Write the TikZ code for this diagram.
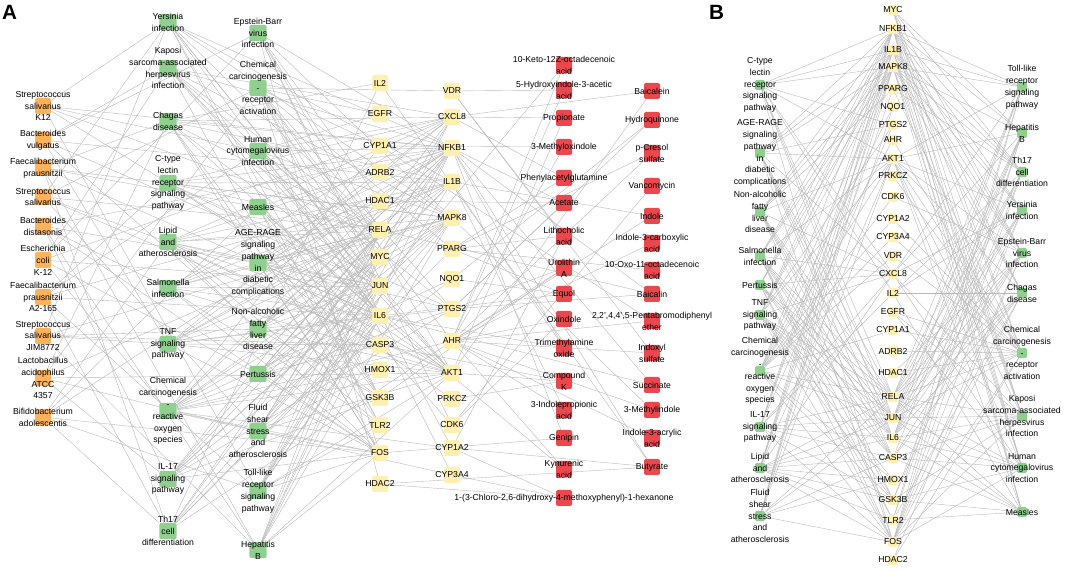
\documentclass[tikz,border=0pt]{standalone}
\usepackage{fontspec}
\setmainfont{Liberation Sans}
\usepackage{tikz}
\pgfdeclarelayer{edges}
\pgfsetlayers{edges,main}

\definecolor{bactcol}{RGB}{253,178,92}
\definecolor{pathcol}{RGB}{143,208,143}
\definecolor{genecol}{RGB}{255,240,178}
\definecolor{metacol}{RGB}{232,72,78}
\definecolor{edgecol}{RGB}{185,185,185}

\begin{document}
\begin{tikzpicture}[x=0.75pt,y=0.75pt,yscale=-1,xscale=1,
  sq/.style={rounded corners=1.5pt, inner sep=0pt, minimum size=12pt},
  sqsmall/.style={rounded corners=1pt, inner sep=0pt, minimum size=7.5pt},
  bact/.style={sq, fill=bactcol},
  patha/.style={sq, fill=pathcol, minimum width=13pt},
  genea/.style={sq, fill=genecol},
  meta/.style={sq, fill=metacol},
  pathb/.style={sqsmall, fill=pathcol},
  geneb/.style={sqsmall, fill=genecol},
  txt/.style={font=\fontsize{6.5}{8.9}\selectfont, align=center, inner sep=0pt},
  edge/.style={draw=edgecol, line width=0.3pt},
  panel/.style={font=\bfseries\fontsize{15.5}{18}\selectfont, inner sep=0pt}
]
\useasboundingbox (0,0) rectangle (1065,570);

% Panel letters
\node[panel] (lblA) at (9.5,12.5) {A};
\node[panel] (lblB) at (716.5,12.5) {B};

%%%%%%%%%%%%%%%%%%%% Panel A %%%%%%%%%%%%%%%%%%%%
% Bacteria
\foreach \y/\lab [count=\i] in {106/{Streptococcus\\salivarius\\K12}, 140/{Bacteroides\\vulgatus},
  168/{Faecalibacterium\\prausnitzii}, 197/{Streptococcus\\salivarius}, 226/{Bacteroides\\distasonis},
  260/{Escherichia\\coli\\K-12}, 297/{Faecalibacterium\\prausnitzii\\A2-165},
  336/{Streptococcus\\salivarius\\JIM8772}, 378/{Lactobacillus\\acidophilus\\ATCC\\4357},
  417/{Bifidobacterium\\adolescentis}}{
  \node[bact] (bac\i) at (43,\y) {};
  \node[txt] (tbac\i) at (bac\i) {\lab};
}
% Pathways, first column
\foreach \y/\lab [count=\i] in {22/{Yersinia\\infection}, 68/{Kaposi\\sarcoma-associated\\herpesvirus\\infection},
  121/{Chagas\\disease}, 183/{C-type\\lectin\\receptor\\signaling\\pathway}, 242/{Lipid\\and\\atherosclerosis},
  288/{Salmonella\\infection}, 344/{TNF\\signaling\\pathway},
  411/{Chemical\\carcinogenesis\\-\\reactive\\oxygen\\species}, 479/{IL-17\\signaling\\pathway},
  531/{Th17\\cell\\differentiation}}{
  \node[patha] (pwa\i) at (168,\y) {};
  \node[txt] (tpwa\i) at (pwa\i) {\lab};
}
% Pathways, second column
\foreach \y/\lab [count=\i] in {33/{Epstein-Barr\\virus\\infection}, 88/{Chemical\\carcinogenesis\\-\\receptor\\activation},
  151/{Human\\cytomegalovirus\\infection}, 207/{Measles},
  263/{AGE-RAGE\\signaling\\pathway\\in\\diabetic\\complications}, 329/{Non-alcoholic\\fatty\\liver\\disease},
  374/{Pertussis}, 431/{Fluid\\shear\\stress\\and\\atherosclerosis},
  491/{Toll-like\\receptor\\signaling\\pathway}, 550/{Hepatitis\\B}}{
  \node[patha] (pwb\i) at (258,\y) {};
  \node[txt] (tpwb\i) at (pwb\i) {\lab};
}
% Targets
\foreach \y/\lab [count=\i] in {83/IL2, 114/EGFR, 146/CYP1A1, 172/ADRB2, 201/HDAC1, 230/RELA, 257/MYC,
  286/JUN, 316/IL6, 345/CASP3, 370/HMOX1, 398/GSK3B, 425/TLR2, 453/FOS, 484/HDAC2}{
  \node[genea] (gna\i) at (380,\y) {};
  \node[txt] (tgna\i) at (gna\i) {\lab};
}
\foreach \y/\lab [count=\i] in {91/VDR, 117/CXCL8, 148/NFKB1, 182/IL1B, 218/MAPK8, 249/PPARG, 279/NQO1,
  309/PTGS2, 341/AHR, 373/AKT1, 399/PRKCZ, 425/CDK6, 448/CYP1A2, 475/CYP3A4}{
  \node[genea] (gnb\i) at (452,\y) {};
  \node[txt] (tgnb\i) at (gnb\i) {\lab};
}
% Metabolites
\foreach \y/\lab [count=\i] in {65/{10-Keto-12Z-octadecenoic\\acid}, 90/{5-Hydroxyindole-3-acetic\\acid},
  118/Propionate, 147/3-Methyloxindole, 178/Phenylacetylglutamine, 203/Acetate, 236/{Lithocholic\\acid},
  268/{Urolithin\\A}, 294/Equol, 319/Oxindole, 348/{Trimethylamine\\oxide}, 381/{Compound\\K},
  410/{3-Indolepropionic\\acid}, 438/Genipin, 469/{Kynurenic\\acid},
  498/{1-(3-Chloro-2,6-dihydroxy-4-methoxyphenyl)-1-hexanone}}{
  \node[meta] (mta\i) at (564,\y) {};
  \node[txt] (tmta\i) at (mta\i) {\lab};
}
\foreach \y/\lab [count=\i] in {91/Baicalein, 120/Hydroquinone, 153/{p-Cresol\\sulfate}, 186/Vancomycin,
  216/Indole, 243/{Indole-3-carboxylic\\acid}, 270/{10-Oxo-11-octadecenoic\\acid}, 294/Baicalin,
  321/{2,2',4,4',5-Pentabromodiphenyl\\ether}, 353/{Indoxyl\\sulfate}, 385/Succinate,
  410/3-Methylindole, 438/{Indole-3-acrylic\\acid}, 467/Butyrate}{
  \node[meta] (mtb\i) at (652,\y) {};
  \node[txt] (tmtb\i) at (mtb\i) {\lab};
}

%%%%%%%%%%%%%%%%%%%% Panel B %%%%%%%%%%%%%%%%%%%%
\foreach \y/\lab [count=\i] in {85/{C-type\\lectin\\receptor\\signaling\\pathway},
  153/{AGE-RAGE\\signaling\\pathway\\in\\diabetic\\complications}, 212/{Non-alcoholic\\fatty\\liver\\disease},
  256/{Salmonella\\infection}, 285/Pertussis, 315/{TNF\\signaling\\pathway},
  371/{Chemical\\carcinogenesis\\-\\reactive\\oxygen\\species}, 427/{IL-17\\signaling\\pathway},
  468/{Lipid\\and\\atherosclerosis}, 516/{Fluid\\shear\\stress\\and\\atherosclerosis}}{
  \node[pathb] (lpw\i) at (760,\y) {};
  \node[txt] (tlpw\i) at (lpw\i) {\lab};
}
\foreach \y/\lab [count=\i] in {10/MYC, 29/NFKB1, 50/IL1B, 67/MAPK8, 89/PPARG, 107/NQO1, 125/PTGS2,
  140/AHR, 159/AKT1, 176/PRKCZ, 197/CDK6, 219/CYP1A2, 237/CYP3A4, 256/VDR, 274/CXCL8, 293/IL2,
  312/EGFR, 330/CYP1A1, 351/ADRB2, 373/HDAC1, 397/RELA, 418/JUN, 438/IL6, 458/CASP3, 480/HMOX1,
  500/GSK3B, 520/TLR2, 542/FOS, 560/HDAC2}{
  \node[geneb] (tgt\i) at (893,\y) {};
  \node[txt] (ttgt\i) at (tgt\i) {\lab};
}
\foreach \y/\lab [count=\i] in {87/{Toll-like\\receptor\\signaling\\pathway}, 133/{Hepatitis\\B},
  172/{Th17\\cell\\differentiation}, 210/{Yersinia\\infection}, 253/{Epstein-Barr\\virus\\infection},
  293/{Chagas\\disease}, 353/{Chemical\\carcinogenesis\\-\\receptor\\activation},
  416/{Kaposi\\sarcoma-associated\\herpesvirus\\infection}, 468/{Human\\cytomegalovirus\\infection},
  512/Measles}{
  \node[pathb] (rpw\i) at (1022,\y) {};
  \node[txt] (trpw\i) at (rpw\i) {\lab};
}

%%%%%%%%%%%%%%%%%%%% Edges %%%%%%%%%%%%%%%%%%%%
\begin{pgfonlayer}{edges}
% bacteria
\foreach \src/\dlist in {bac1/{pwa1,pwa4,pwb3,pwb9,gna6,gnb3}, bac2/{pwa2,pwa7,pwb1,pwb6,gna8,gnb4},
  bac3/{pwa3,pwa10,pwb4,pwb10,gna9,gnb5}, bac4/{pwa1,pwa5,pwb2,pwb8,gna6,gnb10},
  bac5/{pwa6,pwa9,pwb5,pwb10,gna14,gnb3}, bac6/{pwa2,pwa8,pwb1,pwb7,gna8,gnb2},
  bac7/{pwa4,pwa10,pwb3,pwb9,gna9,gnb4}, bac8/{pwa1,pwa7,pwb6,pwb10,gna10,gnb5},
  bac9/{pwa3,pwa9,pwb2,pwb8,gna6,gnb10}, bac10/{pwa5,pwa10,pwb4,pwb9,gna14,gnb3}}
  \foreach \dst in \dlist \draw[edge] (\src) -- (\dst);
% pathways to targets
\foreach \src/\dlist in {pwa1/{gna6,gna8,gna9,gna12,gna13,gnb3,gnb4,gnb5,gnb10},
  pwa2/{gna6,gna7,gna8,gna9,gna14,gnb2,gnb3,gnb5,gnb10},
  pwa3/{gna1,gna6,gna8,gna9,gna12,gna13,gna14,gnb2,gnb3,gnb4},
  pwa4/{gna6,gna8,gna9,gnb2,gnb3,gnb4,gnb5,gnb8,gnb10},
  pwa5/{gna6,gna8,gna9,gna10,gna12,gna13,gna14,gnb2,gnb3,gnb4,gnb5,gnb8,gnb10},
  pwa6/{gna6,gna8,gna9,gna13,gna14,gnb2,gnb3,gnb4,gnb5,gnb10},
  pwa7/{gna6,gna8,gna9,gna10,gna14,gnb2,gnb3,gnb4,gnb5,gnb8,gnb10},
  pwa8/{gna3,gna5,gna7,gna8,gna11,gna14,gnb3,gnb5,gnb7,gnb8,gnb9,gnb10,gnb13,gnb14},
  pwa9/{gna8,gna9,gna12,gna14,gnb2,gnb3,gnb4,gnb5,gnb8},
  pwa10/{gna1,gna6,gna8,gna9,gnb3,gnb6,gnb9},
  pwb1/{gna5,gna6,gna8,gna15,gnb3,gnb5,gnb10,gnb12},
  pwb2/{gna2,gna3,gna7,gna8,gna14,gnb1,gnb6,gnb8,gnb9,gnb13,gnb14},
  pwb3/{gna2,gna6,gna9,gna12,gnb2,gnb3,gnb5,gnb8,gnb10},
  pwb4/{gna6,gna9,gna12,gna13,gnb3,gnb10,gnb12},
  pwb5/{gna6,gna8,gna9,gna14,gnb2,gnb3,gnb4,gnb5,gnb10,gnb11},
  pwb6/{gna6,gna8,gna9,gna12,gnb3,gnb4,gnb5,gnb10},
  pwb7/{gna6,gna8,gna9,gna10,gna14,gnb3,gnb4,gnb5},
  pwb8/{gna6,gna8,gna11,gna14,gnb2,gnb3,gnb5,gnb7,gnb10},
  pwb9/{gna6,gna8,gna9,gna13,gna14,gnb2,gnb3,gnb4,gnb5,gnb10},
  pwb10/{gna6,gna7,gna8,gna9,gna14,gnb3,gnb5,gnb10}}
  \foreach \dst in \dlist \draw[edge] (\src) -- (\dst);
% metabolites to targets
\foreach \src/\dlist in {mta1/{gnb9,gna8}, mta2/{gnb1,gnb9}, mta3/{gnb2,gnb10}, mta4/{gnb9,gna3},
  mta5/{gnb2,gnb6}, mta6/{gnb3,gna5,gnb8}, mta7/{gnb1,gnb6,gnb13}, mta8/{gnb9,gnb8,gna12},
  mta9/{gnb6,gnb7,gna9}, mta10/{gnb9,gnb12}, mta11/{gnb3,gna9,gnb4}, mta12/{gnb10,gna10,gnb11},
  mta13/{gnb9,gnb4}, mta14/{gnb3,gna14}, mta15/{gnb9,gna9}, mta16/{gnb13,gnb14,gna15},
  mtb1/{gnb2,gnb10}, mtb2/{gnb8,gnb7}, mtb3/{gnb6,gnb9}, mtb4/{gnb12}, mtb5/{gnb9,gnb4},
  mtb6/{gnb9}, mtb7/{gnb6}, mtb8/{gnb3,gnb8,gna6}, mtb9/{gnb9,gna3}, mtb10/{gnb9,gnb1},
  mtb11/{gnb3,gna9}, mtb12/{gnb9,gnb5}, mtb13/{gnb9}, mtb14/{gna15,gnb13,gnb3,gna1}}
  \foreach \dst in \dlist \draw[edge] (\src) -- (\dst);
% panel B, left pathways
\foreach \src/\dlist in {1/{2,3,4,7,9,15,16,21,22,23,28}, 2/{2,3,4,7,9,15,21,22,23,24,28},
  3/{2,3,4,5,9,15,21,22,23,24,26}, 4/{2,3,4,9,15,21,22,23,24,26,27,28},
  5/{2,3,4,15,21,22,23,24,27,28}, 6/{2,3,4,7,9,15,21,22,23,24,25,26,28},
  7/{2,4,6,8,9,11,12,13,14,18,21,22,25,26,28}, 8/{2,3,4,7,15,16,21,22,23,24,26,28},
  9/{2,3,4,5,9,15,21,22,23,24,25,26,27,28}, 10/{2,3,4,6,9,21,22,24,25,28}}
  \foreach \dst in \dlist \draw[edge] (lpw\src) -- (tgt\dst);
% panel B, right pathways
\foreach \src/\dlist in {1/{2,3,4,9,15,21,22,23,27,28}, 2/{1,2,4,9,15,21,22,23,24,27,28},
  3/{1,2,3,4,5,16,21,22,23,26,28}, 4/{2,3,4,9,15,16,21,22,23,26,28},
  5/{1,2,3,4,9,11,20,21,22,23,24,28,29}, 6/{2,3,4,9,16,21,22,23,24,27,28},
  7/{1,2,5,8,9,10,12,13,14,17,18,19,20,21,22,28,29}, 8/{1,2,3,4,9,15,17,21,22,23,24,26,28},
  9/{1,2,3,4,9,15,17,21,22,23,24,26,28}, 10/{2,3,4,9,16,21,22,23,24,26,27}}
  \foreach \dst in \dlist \draw[edge] (rpw\src) -- (tgt\dst);
\end{pgfonlayer}

\end{tikzpicture}
\end{document}
